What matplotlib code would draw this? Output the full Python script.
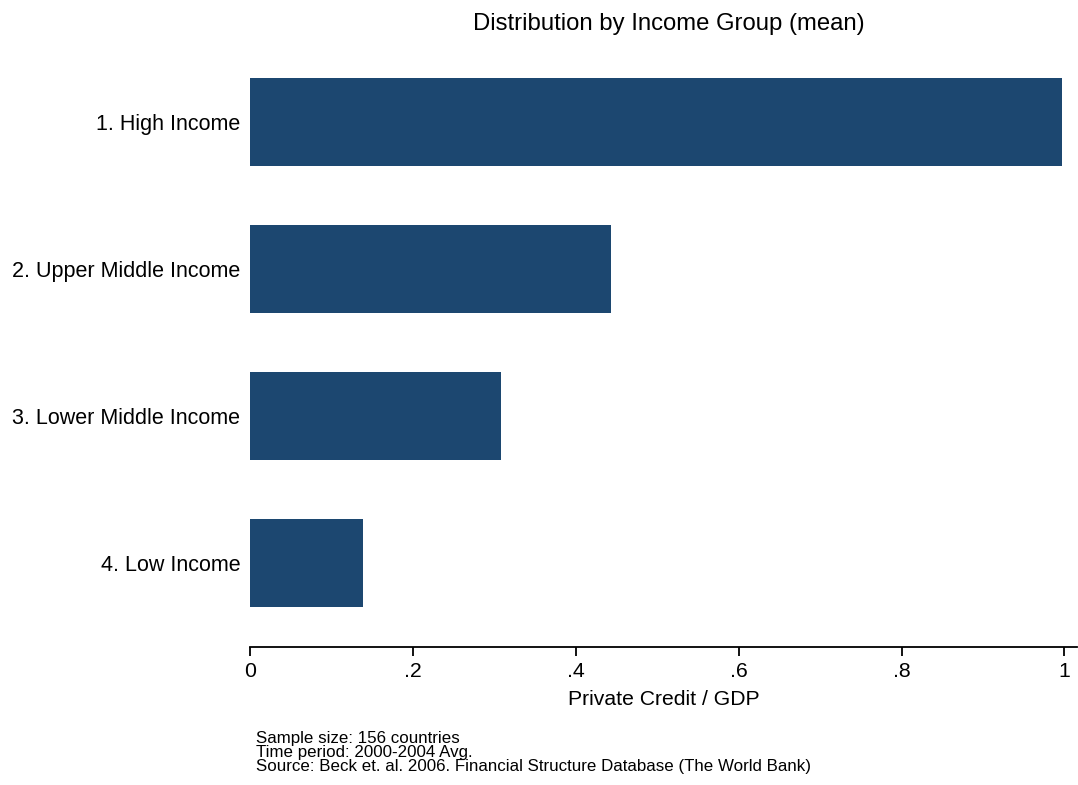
import matplotlib
matplotlib.use("Agg")
import matplotlib.pyplot as plt

categories = ["1. High Income", "2. Upper Middle Income", "3. Lower Middle Income", "4. Low Income"]
values = [0.997, 0.443, 0.308, 0.139]
xticks = [0, 0.2, 0.4, 0.6, 0.8, 1.0]
xticklabels = ["0", ".2", ".4", ".6", ".8", "1"]
notes = ["Sample size: 156 countries",
         "Time period: 2000-2004 Avg.",
         "Source: Beck et. al. 2006. Financial Structure Database (The World Bank)"]

plt.rcParams['font.family'] = ['Liberation Sans', 'DejaVu Sans']

W, H = 1078, 785
fig = plt.figure(figsize=(W/100, H/100), dpi=100)
left, right = 250/W, 1077/W
bottom, top = (H-647)/H, (H-38)/H
ax = fig.add_axes([left, bottom, right-left, top-bottom])

ypos = list(range(len(categories)))[::-1]
ax.barh(ypos, values, height=0.6, color='#1c4770', edgecolor='none')
ax.set_ylim(-0.571, 3.571)
ax.set_xlim(0, 1.0155)
ax.set_yticks(ypos)
ax.set_yticklabels(categories, fontsize=15.5)
ax.set_xticks(xticks)
ax.set_xticklabels(xticklabels, fontsize=15.3)
for s in ['top', 'right', 'left']:
    ax.spines[s].set_visible(False)
ax.spines['bottom'].set_linewidth(1.3)
ax.tick_params(axis='y', length=0, pad=7)
ax.tick_params(axis='x', length=6.5, width=1.3, pad=4)
ax.set_xlabel("Private Credit / GDP", fontsize=15.2, labelpad=7)

fig.text(669/W, 1-30/H, "Distribution by Income Group (mean)", fontsize=17.2, ha='center', va='baseline')
fig.text(256/W, 1-771/H, "\n".join(notes), fontsize=12.2, ha='left', va='baseline', linespacing=0.92)

fig.savefig("out.png", dpi=100)
